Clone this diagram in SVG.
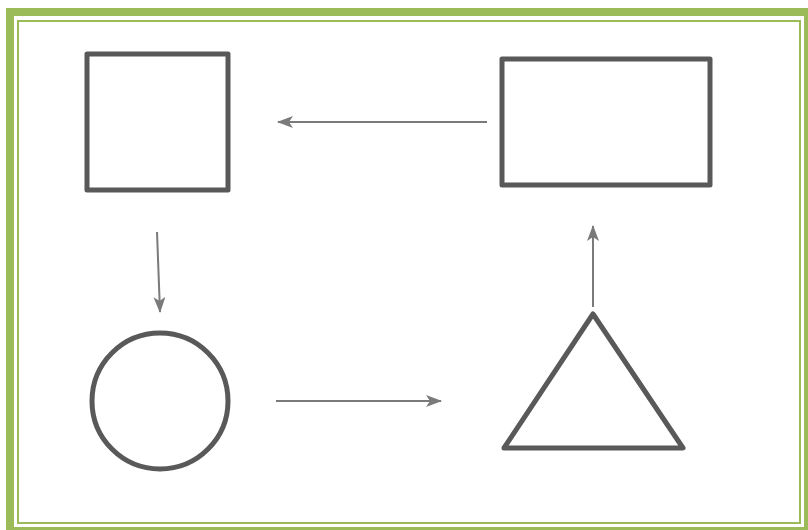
<svg xmlns="http://www.w3.org/2000/svg" width="808" height="530" viewBox="0 0 808 530">
<style>
.shape{fill:none;stroke:#595959;stroke-width:5;stroke-linejoin:round}
.conn{fill:none;stroke:#7a7a7a;stroke-width:2}
</style>
<defs>
<marker id="ah" viewBox="0 0 16 12" refX="15" refY="6" markerWidth="16" markerHeight="12" markerUnits="userSpaceOnUse" orient="auto">
<path d="M0,0 L16,6 L0,12 L4,6 Z" fill="#7a7a7a"/>
</marker>
</defs>
<rect x="0" y="0" width="808" height="530" fill="#ffffff"/>
<g id="frame">
<rect x="10" y="12" width="798" height="519" fill="none" stroke="#9bbb59" stroke-width="8"/>
<rect x="18" y="21" width="782" height="502" fill="none" stroke="#9bbb59" stroke-width="2"/>
</g>
<g id="square"><rect class="shape" x="87" y="54" width="141" height="136"/></g>
<g id="rectangle"><rect class="shape" x="502" y="59" width="208" height="126"/></g>
<g id="circle"><circle class="shape" cx="160" cy="401" r="68"/></g>
<g id="triangle"><polygon class="shape" points="593,314 683,448 504,448"/></g>
<g id="connectors">
<line class="conn" x1="487" y1="122" x2="278" y2="122" marker-end="url(#ah)"/>
<line class="conn" x1="157" y1="232" x2="160" y2="312" marker-end="url(#ah)"/>
<line class="conn" x1="276" y1="401" x2="441" y2="401" marker-end="url(#ah)"/>
<line class="conn" x1="593" y1="307" x2="593" y2="226" marker-end="url(#ah)"/>
</g>
</svg>
